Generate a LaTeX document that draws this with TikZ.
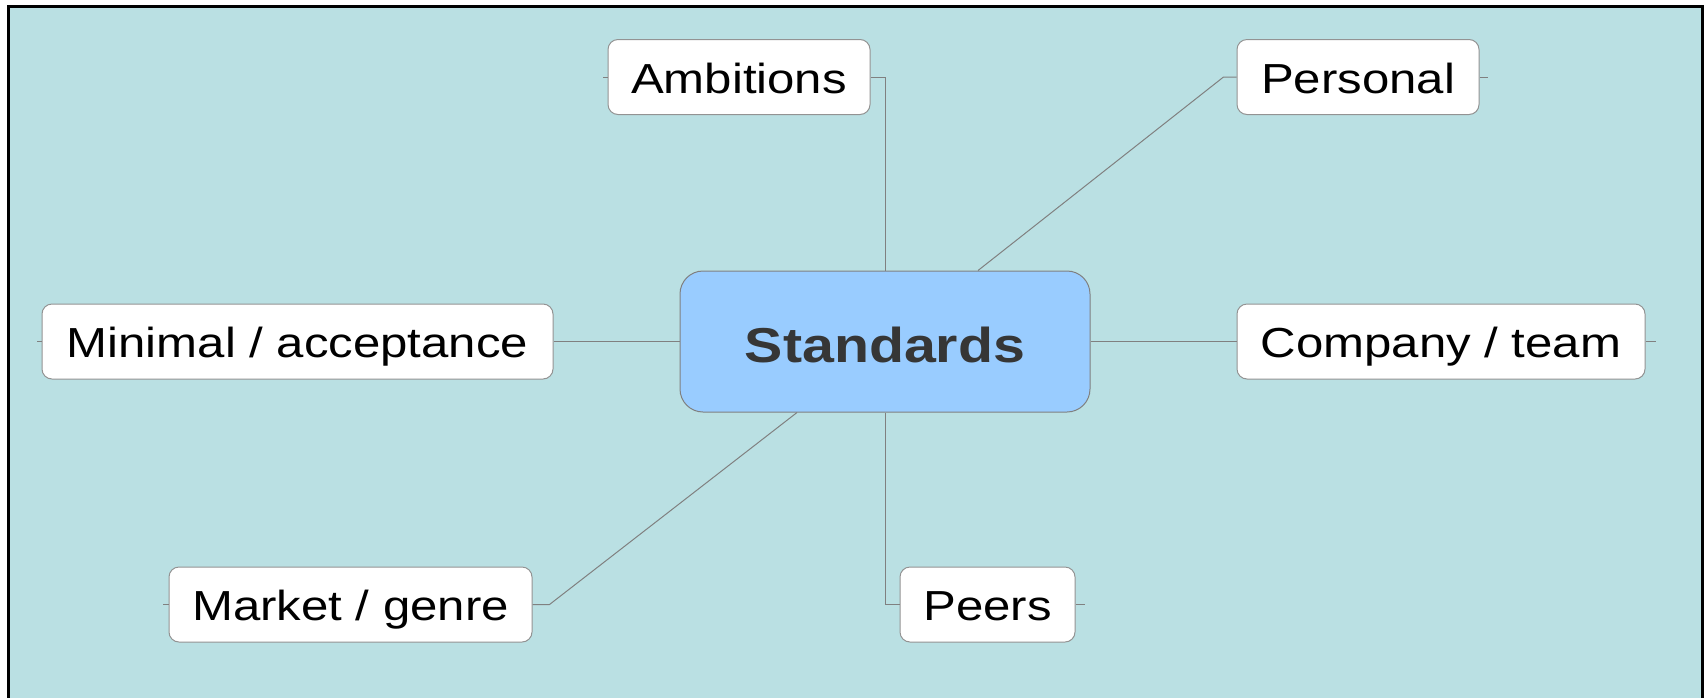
\documentclass[tikz,border=0pt]{standalone}
\usepackage{fontspec}
\setmainfont{Liberation Sans}[FakeStretch=1.17]
\usetikzlibrary{calc}
\definecolor{mapbg}{RGB}{186,224,227}
\definecolor{hubblue}{RGB}{153,204,255}
\definecolor{edgegray}{RGB}{128,128,128}
\definecolor{hubtext}{RGB}{54,54,54}
\tikzset{
  leaf/.style={draw=edgegray!85, fill=white, line width=0.5pt, rounded corners=5pt,
    minimum height=37.5pt, inner sep=0pt, text height=16pt, text depth=0pt,
    font=\fontsize{21}{25}\selectfont},
  hub/.style={draw=edgegray, fill=hubblue, line width=0.5pt, rounded corners=11.5pt,
    minimum width=205pt, minimum height=70.5pt, inner sep=0pt, text height=20.5pt,
    text depth=0pt, font=\fontsize{24.5}{29}\selectfont\bfseries, text=hubtext},
  link/.style={draw=edgegray, line width=0.5pt}
}

\begin{document}
\begin{tikzpicture}[x=0.5pt,y=-0.5pt]
\useasboundingbox (0,0) rectangle (1706,697);
\clip (0,0) rectangle (1706,697);
\fill[mapbg] (8.5,6) rectangle (1702.5,720);
\draw[black, line width=1.5pt] (8.5,6) rectangle (1702.5,720);
\node[hub] (std) at (885,341.5) {Standards};
\node[leaf, minimum width=131pt] (amb) at (739,77) {Ambitions};
\node[leaf, minimum width=121pt] (pers) at (1358,77) {Personal};
\node[leaf, minimum width=255.5pt] (minm) at (297.5,341.5) {Minimal / acceptance};
\node[leaf, minimum width=204pt] (comp) at (1441,341.5) {Company / team};
\node[leaf, minimum width=181.5pt] (mkt) at (350.5,604.5) {Market / genre};
\node[leaf, minimum width=87.5pt] (peers) at (987.5,604.5) {Peers};
\draw[link] (amb.east) -| (std.north);
\draw[link] ($(std.north)+(93,0)$) -- ($(pers.west)+(-13,0)$) -- (pers.west);
\draw[link] (minm.east) -- (std.west);
\draw[link] (std.east) -- (comp.west);
\draw[link] (mkt.east) -- ++(17,0) -- ($(std.south)+(-88,0)$);
\draw[link] (std.south) |- (peers.west);
\draw[link] (amb.west) -- ++(-5,0);
\draw[link] (pers.east) -- ++(8,0);
\draw[link] (minm.west) -- ++(-5,0);
\draw[link] (comp.east) -- ++(10,0);
\draw[link] (mkt.west) -- ++(-6,0);
\draw[link] (peers.east) -- ++(9,0);
\end{tikzpicture}
\end{document}
